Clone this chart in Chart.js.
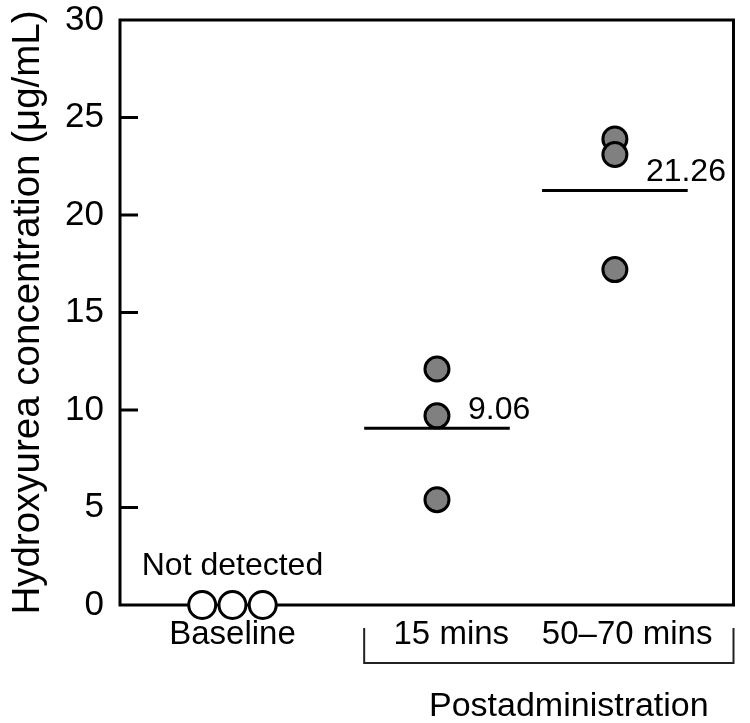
<!DOCTYPE html>
<html>
<head>
<meta charset="utf-8">
<title>Hydroxyurea concentration</title>
<script src="https://cdn.jsdelivr.net/npm/chart.js@4.4.1/dist/chart.umd.min.js"></script>
<style>
  html, body { margin: 0; padding: 0; background: #fff; }
  .chart-container { width: 750px; height: 723px; }
</style>
</head>
<body>
<div class="chart-container"><canvas id="hu-chart"></canvas></div>
<script>
// groups along the x axis
const categories = ["Baseline", "15 mins", "50\u201370 mins"];
// hydroxyurea concentration (ug/mL), one value per patient
const baselineValues = [0, 0, 0];
const mins15Values = [12.1, 9.7, 5.4];
const mins5070Values = [23.9, 23.1, 17.2];
// group means, baseline was not detected
const groupMeans = [null, 9.06, 21.26];
const yTicks = [0, 5, 10, 15, 20, 25, 30];
const baselineNote = "Not detected";
const bracketLabel = "Postadministration";

// layout only: where the groups sit on the linear x scale
const groupX = [0, 1, 1.87];
const labelX = [0, 1.07, 1.93];
const jitter = 0.148;
const meanHalfWidth = 0.356;
const FONT = '"Liberation Sans", Arial, sans-serif';

// points for each group
const pointStyle = (fill, r) => ({
  type: "scatter",
  backgroundColor: fill,
  borderColor: "#000",
  borderWidth: 3,
  pointRadius: r,
  pointHoverRadius: r,
  clip: false,
  order: 1,
});

const datasets = [
  Object.assign(pointStyle("#fff", 13.5), {
    label: categories[0],
    data: baselineValues.map((v, i) => ({ x: groupX[0] + (i - 1) * jitter, y: v })),
  }),
  Object.assign(pointStyle("#808080", 12), {
    label: categories[1],
    data: mins15Values.map((v) => ({ x: groupX[1], y: v })),
  }),
  Object.assign(pointStyle("#808080", 12), {
    label: categories[2],
    data: mins5070Values.map((v) => ({ x: groupX[2], y: v })),
  }),
];

// mean lines, drawn under the points
groupMeans.forEach((m, i) => {
  if (m === null) return;
  datasets.push({
    type: "line",
    label: categories[i] + " mean",
    data: [
      { x: groupX[i] - meanHalfWidth, y: m },
      { x: groupX[i] + meanHalfWidth, y: m },
    ],
    borderColor: "#000",
    borderWidth: 3,
    pointRadius: 0,
    fill: false,
    clip: false,
    order: 2,
  });
});

// frame, inward ticks, notes and the bracket under the x labels
const frameAndNotes = {
  id: "frameAndNotes",
  beforeDatasetsDraw(chart) {
    const { ctx, chartArea: a, scales: { y } } = chart;
    ctx.save();
    ctx.strokeStyle = "#000";
    ctx.lineWidth = 3;
    ctx.strokeRect(a.left, a.top, a.right - a.left, a.bottom - a.top);
    yTicks.slice(1, -1).forEach((v) => {
      const py = y.getPixelForValue(v);
      ctx.beginPath();
      ctx.moveTo(a.left, py);
      ctx.lineTo(a.left + 18, py);
      ctx.stroke();
    });
    ctx.restore();
  },
  afterDatasetsDraw(chart) {
    const { ctx, chartArea: a, scales: { x, y } } = chart;
    ctx.save();
    ctx.fillStyle = "#000";
    ctx.font = "32px " + FONT;
    ctx.textBaseline = "alphabetic";

    ctx.textAlign = "center";
    ctx.fillText(baselineNote, x.getPixelForValue(groupX[0]), y.getPixelForValue(0) - 30);

    ctx.textAlign = "left";
    groupMeans.forEach((m, i) => {
      if (m === null) return;
      ctx.fillText(m.toFixed(2), x.getPixelForValue(groupX[i]) + 31, y.getPixelForValue(m) - 9);
    });

    // bracket for the postadministration groups
    const left = x.getPixelForValue(groupX[1] - meanHalfWidth);
    const right = a.right;
    const top = a.bottom + 23;
    const bottom = a.bottom + 58;
    ctx.strokeStyle = "#222";
    ctx.lineWidth = 2;
    ctx.beginPath();
    ctx.moveTo(left, top);
    ctx.lineTo(left, bottom);
    ctx.lineTo(right, bottom);
    ctx.lineTo(right, top);
    ctx.stroke();

    ctx.font = "34px " + FONT;
    ctx.textAlign = "center";
    ctx.fillText(bracketLabel, (left + right) / 2 + 20, bottom + 53);
    ctx.restore();
  },
};

const canvas = document.getElementById("hu-chart");
new Chart(canvas, {
  data: { datasets: datasets },
  options: {
    responsive: true,
    maintainAspectRatio: false,
    animation: false,
    events: [],
    layout: { padding: { top: 20, right: 14, left: 0, bottom: 0 } },
    plugins: {
      legend: { display: false },
      tooltip: { enabled: false },
    },
    scales: {
      x: {
        type: "linear",
        min: -0.55,
        max: 2.45,
        grid: { display: false },
        border: { display: false },
        afterBuildTicks: (scale) => {
          scale.ticks = labelX.map((v) => ({ value: v }));
        },
        afterFit: (scale) => {
          scale.height = 118;
          scale.paddingLeft = 0;
          scale.paddingRight = 0;
        },
        ticks: {
          autoSkip: false,
          maxRotation: 0,
          padding: 2,
          color: "#000",
          font: { family: FONT, size: 33 },
          callback: (value, index) => categories[index],
        },
      },
      y: {
        type: "linear",
        min: 0,
        max: 30,
        grid: { display: false },
        border: { display: false },
        afterBuildTicks: (scale) => {
          scale.ticks = yTicks.map((v) => ({ value: v }));
        },
        afterFit: (scale) => {
          scale.width = 120;
          scale.paddingTop = 0;
          scale.paddingBottom = 0;
        },
        ticks: {
          padding: 8,
          color: "#000",
          font: { family: FONT, size: 35 },
        },
        title: {
          display: true,
          text: "Hydroxyurea concentration (\u03bcg/mL)",
          color: "#000",
          font: { family: FONT, size: 38.5 },
          padding: { top: 5, bottom: 0 },
        },
      },
    },
  },
  plugins: [frameAndNotes],
});
</script>
</body>
</html>
